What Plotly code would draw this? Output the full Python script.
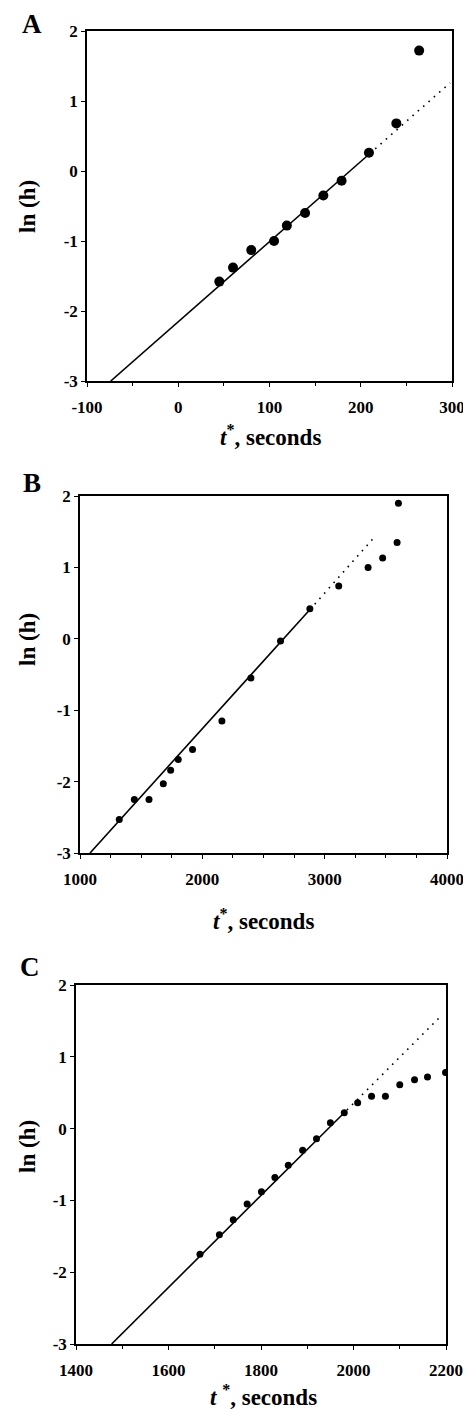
import plotly.graph_objects as go

# panel A data
a_t = [45, 60, 80, 105, 119, 139, 159, 179, 209, 239, 264]
a_lnh = [-1.58, -1.38, -1.13, -1.0, -0.78, -0.6, -0.35, -0.14, 0.26, 0.68, 1.72]
a_fit_t = [-74, 210]
a_fit_lnh = [-3.0, 0.25]
a_ext_t = [210, 298]
a_ext_lnh = [0.25, 1.26]

# panel B data
b_t = [1321, 1444, 1564, 1681, 1741, 1803, 1920, 2160, 2397, 2639, 2879, 3115, 3355, 3474, 3592, 3603]
b_lnh = [-2.53, -2.25, -2.25, -2.03, -1.84, -1.69, -1.55, -1.15, -0.55, -0.03, 0.42, 0.74, 1.0, 1.13, 1.35, 1.9]
b_fit_t = [1082, 2880]
b_fit_lnh = [-3.0, 0.41]
b_ext_t = [2880, 3415]
b_ext_lnh = [0.41, 1.44]

# panel C data
c_t = [1668, 1710, 1740, 1770, 1801, 1830, 1859, 1890, 1920, 1950, 1980, 2009, 2039, 2069, 2100, 2132, 2160, 2199]
c_lnh = [-1.75, -1.48, -1.27, -1.05, -0.88, -0.68, -0.51, -0.3, -0.14, 0.08, 0.22, 0.36, 0.45, 0.45, 0.61, 0.68, 0.72, 0.78]
c_fit_t = [1477, 1975]
c_fit_lnh = [-3.0, 0.19]
c_ext_t = [1975, 2191]
c_ext_lnh = [0.19, 1.58]

y_ticks = [2, 1, 0, -1, -2, -3]
y_labels = ["2", "1", "0", "-1", "-2", "-3"]
a_xticks = [-100, 0, 100, 200, 300]
b_xticks = [1000, 2000, 3000, 4000]
c_xticks = [1400, 1600, 1800, 2000, 2200]

W, H = 471, 1412
# the page body has an 8px margin, so the figure starts at (8, 8)
OX, OY = 8, 8
FW, FH = W - OX, H - OY
FONT = "Liberation Serif"


def px_x(x):
    return (x - OX) / FW


def px_y(y):
    return 1 - (y - OY) / FH


fig = go.Figure()

panels = [
    ("", a_t, a_lnh, a_fit_t, a_fit_lnh, a_ext_t, a_ext_lnh, 10),
    ("2", b_t, b_lnh, b_fit_t, b_fit_lnh, b_ext_t, b_ext_lnh, 7),
    ("3", c_t, c_lnh, c_fit_t, c_fit_lnh, c_ext_t, c_ext_lnh, 7),
]
for sfx, t, lnh, ft, fl, et, el, msize in panels:
    xa, ya = "x" + sfx, "y" + sfx
    fig.add_trace(go.Scatter(x=ft, y=fl, mode="lines", line=dict(color="black", width=1.6),
                             xaxis=xa, yaxis=ya))
    fig.add_trace(go.Scatter(x=et, y=el, mode="lines", line=dict(color="black", width=1.6, dash="1.6px,5.5px"),
                             xaxis=xa, yaxis=ya))
    fig.add_trace(go.Scatter(x=t, y=lnh, mode="markers", marker=dict(color="black", size=msize),
                             xaxis=xa, yaxis=ya))

# pixel boxes of the three plot areas (page pixels): left, right, top, bottom
boxes = [(87, 452, 31, 381), (80, 447, 496, 853), (76, 446, 985, 1344)]
xranges = [[-100, 300], [1000, 4000], [1400, 2200]]
xticks = [a_xticks, b_xticks, c_xticks]
xminor = [50, 250, 100]

axis_common = dict(showline=True, linecolor="black", linewidth=1.5, mirror=True,
                   showgrid=False, zeroline=False, ticks="outside", ticklen=4,
                   tickcolor="black", tickwidth=1, automargin=False,
                   tickfont=dict(family=FONT, size=17, color="black", weight="bold"))

layout = {}
for i, (l, r, t, b) in enumerate(boxes):
    sfx = "" if i == 0 else str(i + 1)
    layout["xaxis" + sfx] = dict(axis_common, domain=[px_x(l), px_x(r)], range=xranges[i],
                                 anchor="y" + sfx, tickvals=xticks[i],
                                 ticktext=[str(v) for v in xticks[i]], ticklabelstandoff=6,
                                 minor=dict(ticks="outside", ticklen=3, dtick=xminor[i], tickcolor="black"))
    layout["yaxis" + sfx] = dict(axis_common, domain=[px_y(b), px_y(t)], range=[-3, 2],
                                 anchor="x" + sfx, tickvals=y_ticks, ticktext=y_labels)

fig.update_layout(**layout)

annots = []
# panel letters: (text, x, y, yanchor)
letters = [("A", 32, 8, "top"), ("B", 32, 483, "middle"), ("C", 30, 967, "middle")]
for txt, x, y, ya in letters:
    annots.append(dict(text="<b>" + txt + "</b>", x=px_x(x), y=px_y(y), xref="paper", yref="paper",
                       xanchor="center", yanchor=ya, borderpad=0,
                       showarrow=False, font=dict(family=FONT, size=27, color="black")))
xtitles = [("<b><i>t</i><sup>*</sup>, seconds</b>", 270, 452),
           ("<b><i>t</i><sup>*</sup>, seconds</b>", 263, 936),
           ("<b><i>t</i> <sup>*</sup>, seconds</b>", 263, 1412)]
for txt, x, y in xtitles:
    annots.append(dict(text=txt, x=px_x(x), y=px_y(y), xref="paper", yref="paper",
                       xanchor="center", yanchor="bottom",
                       showarrow=False, font=dict(family=FONT, size=23, color="black")))
for y in [207, 640, 1147]:
    annots.append(dict(text="<b>ln (h)</b>", x=px_x(27), y=px_y(y), xref="paper", yref="paper",
                       xanchor="center", yanchor="middle",
                       showarrow=False, textangle=-90, font=dict(family=FONT, size=23, color="black")))

fig.update_layout(template="none", width=FW, height=FH, margin=dict(l=0, r=0, t=0, b=0),
                  plot_bgcolor="white", paper_bgcolor="white", showlegend=False,
                  annotations=annots)

fig.write_html("out.html")
